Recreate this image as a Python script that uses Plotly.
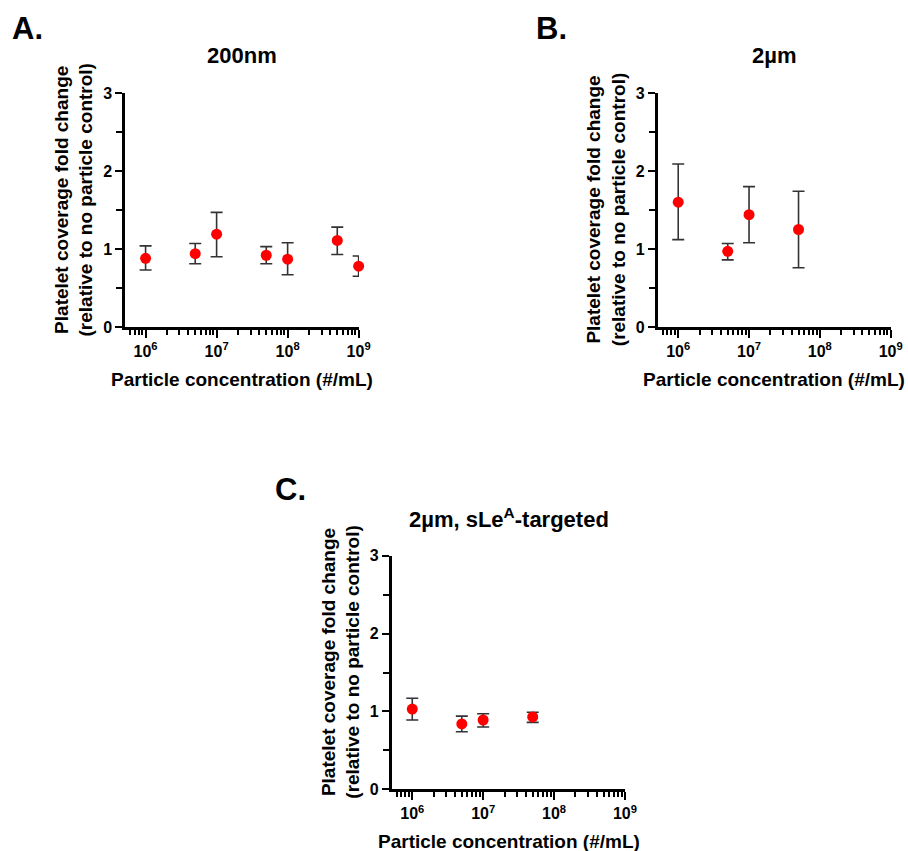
import plotly.graph_objects as go

W, H = 908, 851

# Particle concentrations (#/mL) and platelet coverage fold change
conc_a = [1e6, 5e6, 1e7, 5e7, 1e8, 5e8, 1e9]
mean_a = [0.88, 0.94, 1.19, 0.92, 0.87, 1.11, 0.78]
upper_a = [1.04, 1.07, 1.47, 1.03, 1.08, 1.28, 0.91]
lower_a = [0.73, 0.81, 0.90, 0.81, 0.67, 0.93, 0.65]

conc_b = [1e6, 5e6, 1e7, 5e7]
mean_b = [1.60, 0.97, 1.44, 1.25]
upper_b = [2.09, 1.07, 1.80, 1.74]
lower_b = [1.12, 0.86, 1.08, 0.76]

conc_c = [1e6, 5e6, 1e7, 5e7]
mean_c = [1.03, 0.84, 0.89, 0.93]
upper_c = [1.17, 0.94, 0.97, 0.99]
lower_c = [0.89, 0.74, 0.80, 0.86]

x_tickvals = [1e6, 1e7, 1e8, 1e9]
x_ticktext = ["10<sup>6</sup>", "10<sup>7</sup>", "10<sup>8</sup>", "10<sup>9</sup>"]
y_tickvals = [0, 1, 2, 3]
y_ticktext = ["0", "1", "2", "3"]

panel_titles = ["200nm", "2µm", "2µm, sLe<sup>A</sup>-targeted"]
panel_letters = ["A.", "B.", "C."]
x_title = "Particle concentration (#/mL)"
y_title = "Platelet coverage fold change<br>(relative to no particle control)"

FONT = "Liberation Sans, Arial, sans-serif"

# plot-area boxes in pixels: (left, top, right, bottom)
boxes = [
    (125.0, 93.0, 359.0, 327.0),
    (657.7, 93.0, 891.0, 327.0),
    (391.7, 555.7, 625.3, 789.3),
]


def px_x(x):
    return x / W


def px_y(y):
    return 1 - y / H


minor_x = [m * 10 ** e for e in range(5, 9) for m in range(2, 10) if m * 10 ** e >= 5.2e5]

fig = go.Figure()
series = [
    (conc_a, mean_a, upper_a, lower_a),
    (conc_b, mean_b, upper_b, lower_b),
    (conc_c, mean_c, upper_c, lower_c),
]

annotations = []
# y-title vertical offsets relative to plot centre
ytitle_dy = [-10, 0, -10]

for i, ((xs, ms, ups, los), box) in enumerate(zip(series, boxes)):
    n = i + 1
    xa = "x" if n == 1 else f"x{n}"
    ya = "y" if n == 1 else f"y{n}"
    fig.add_trace(go.Scatter(
        x=xs, y=ms, mode="markers", xaxis=xa, yaxis=ya,
        marker=dict(color="#ff0000", size=11, line=dict(width=0)),
        error_y=dict(type="data", symmetric=False,
                     array=[u - m for u, m in zip(ups, ms)],
                     arrayminus=[m - l for m, l in zip(ms, los)],
                     color="#333333", thickness=1.6, width=6),
        cliponaxis=False,
        showlegend=False,
    ))
    l, t, r, b = box
    axis_common = dict(showline=True, linecolor="black", linewidth=2.5,
                       ticks="outside", tickcolor="black", tickwidth=2,
                       showgrid=False, zeroline=False, mirror=False, automargin=False,
                       tickfont=dict(family=FONT, size=16, color="black", weight="bold"))
    fig.layout[f"xaxis{n if n > 1 else ''}"] = dict(
        axis_common, type="log", range=[5.71, 9.005],
        domain=[px_x(l), px_x(r)], anchor=ya,
        tickmode="array", tickvals=x_tickvals, ticktext=x_ticktext, ticklen=8,
        minor=dict(tickmode="array", tickvals=minor_x, ticks="outside",
                   ticklen=5, tickwidth=2, tickcolor="black", showgrid=False),
    )
    fig.layout[f"yaxis{n if n > 1 else ''}"] = dict(
        axis_common, range=[0, 3], domain=[px_y(b), px_y(t)], anchor=xa,
        tickmode="array", tickvals=y_tickvals, ticktext=y_ticktext, ticklen=7,
        minor=dict(tickmode="array", tickvals=[0.5, 1.5, 2.5], ticks="outside",
                   ticklen=6, tickwidth=2, tickcolor="black", showgrid=False),
    )
    cx = (l + r) / 2
    cy = (t + b) / 2
    # panel title
    annotations.append(dict(text=panel_titles[i], x=px_x(cx), y=px_y(t - 38),
                            xref="paper", yref="paper", showarrow=False,
                            xanchor="center", yanchor="middle",
                            font=dict(family=FONT, size=22, color="black", weight="bold")))
    # x-axis title
    annotations.append(dict(text=x_title, x=px_x(cx), y=px_y(b + 52),
                            xref="paper", yref="paper", showarrow=False,
                            xanchor="center", yanchor="middle",
                            font=dict(family=FONT, size=19, color="black", weight="bold")))
    # y-axis title
    annotations.append(dict(text=y_title, x=px_x(l - 51.5), y=px_y(cy + ytitle_dy[i]),
                            xref="paper", yref="paper", showarrow=False,
                            textangle=-90, xanchor="center", yanchor="middle",
                            font=dict(family=FONT, size=19, color="black", weight="bold")))

letter_pos = [(27, 28), (551, 28), (290, 489)]
for letter, (lx, ly) in zip(panel_letters, letter_pos):
    annotations.append(dict(text=letter, x=px_x(lx), y=px_y(ly),
                            xref="paper", yref="paper", showarrow=False,
                            xanchor="center", yanchor="middle",
                            font=dict(family=FONT, size=31, color="black", weight="bold")))

fig.update_layout(
    width=W, height=H, margin=dict(l=0, r=0, t=0, b=0, autoexpand=False),
    paper_bgcolor="white", plot_bgcolor="white",
    font=dict(family=FONT, color="black"),
    annotations=annotations,
)

fig.write_html("out.html")
